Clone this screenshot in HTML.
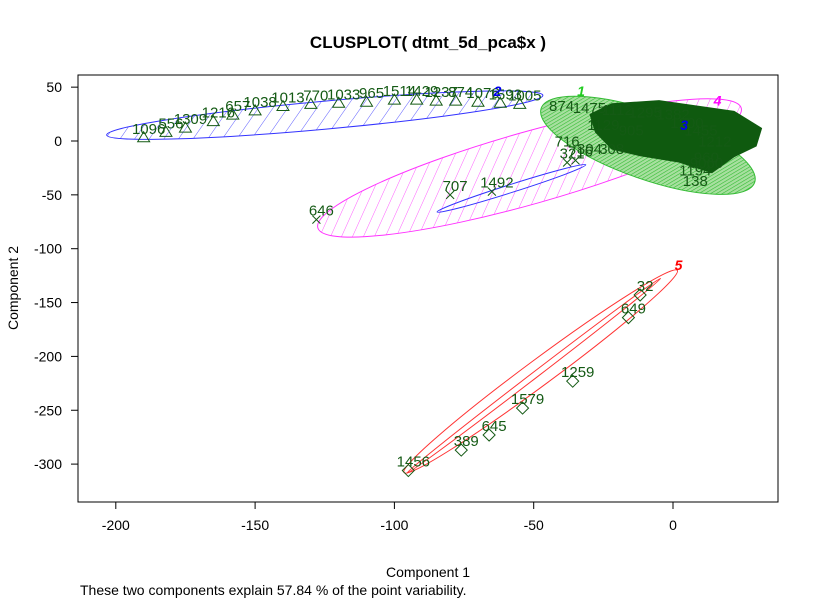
<!DOCTYPE html>
<html><head><meta charset="utf-8"><style>
body{margin:0;background:#fff}
svg{display:block;font-family:"Liberation Sans",sans-serif}
</style></head><body>
<svg id="chart" width="821" height="600" viewBox="0 0 821 600">
<defs>
<pattern id="hb" patternUnits="userSpaceOnUse" width="12" height="12" patternTransform="rotate(40)"><line x1="0" y1="0" x2="0" y2="12" stroke="#3333ff" stroke-width="0.8"/></pattern>
<pattern id="hm" patternUnits="userSpaceOnUse" width="10" height="10" patternTransform="rotate(40)"><line x1="0" y1="0" x2="0" y2="10" stroke="#ff33ff" stroke-width="0.8"/></pattern>
<pattern id="hg" patternUnits="userSpaceOnUse" width="3" height="3" patternTransform="rotate(40)"><rect width="3" height="3" fill="#a8e0a0"/><line x1="0" y1="0" x2="0" y2="3" stroke="#33bb33" stroke-width="1.2"/></pattern>
</defs>
<text x="428" y="48" text-anchor="middle" font-size="17" font-weight="bold">CLUSPLOT( dtmt_5d_pca$x )</text>
<rect x="78" y="75" width="700" height="427" fill="none" stroke="#000"/>
<g id="xaxis"></g>
<g id="yaxis"></g>
<g id="ellipses"></g>
<g id="points"></g>
<g id="blob"></g>
<g id="clabels"></g>
<text x="428" y="577" text-anchor="middle" font-size="14">Component 1</text>
<text transform="translate(18,288) rotate(-90)" text-anchor="middle" font-size="14">Component 2</text>
<text x="80" y="595" font-size="14">These two components explain 57.84 % of the point variability.</text>
</svg>
<script>
const xTicks=[-200,-150,-100,-50,0];
const yTicks=[50,0,-50,-100,-150,-200,-250,-300];
// cluster 5 (diamonds)
const c5x=[-11.8,-16,-36,-54,-66,-76,-95];
const c5y=[-143,-164,-223,-248,-273,-287,-306];
const c5l=["32","649","1259","1579","645","389","1456"];
// cluster 2 (triangles)
const c2x=[-190,-182,-175,-165,-158,-150,-140,-130,-120,-110,-100,-92,-85,-78,-70,-62,-55];
const c2y=[3,8,12,18,24,28,32,34,35,36,38,38,37,37,36,35,34];
const c2l=["1096","556","1309","1216","657","1038","1013","770","1033","965","1514","1429","1237","874","1076","1593","1005"];
// cluster 4 (x)
const c4x=[-128,-80,-65,-38,-35];
const c4y=[-73,-50,-47,-20,-18];
const c4l=["646","707","1492","321","716"];
// cluster 1/3 sample labels
const c1x=[-40,-30,-20,-10,0,5,10,15,-25,-15,12,8,-38,-30,8,12,-22];
const c1y=[28,26,24,22,20,12,5,-5,10,5,-20,-32,-5,-12,-42,-25,-12];
const c1l=["874","1475","1112","1295","1382","1200","1455","1212","1129","905","960","1194","716","304","138","9060","308"];
const ell=[
 {cx:-47.5,cy:-214,a:170,b:13,ang:-36.5,stroke:"#ff3333",fill:"none"},
 {cx:-50,cy:-218,a:160,b:3,ang:-37.5,stroke:"#ff3333",fill:"none"},
 {cx:-125,cy:24,a:219,b:14,ang:-5.2,stroke:"#3333ff",fill:"url(#hb)"},
 {cx:-51.5,cy:-25,a:220,b:36,ang:-15.8,stroke:"#ff33ff",fill:"url(#hm)"},
 {cx:-58,cy:-44,a:78,b:4,ang:-17.6,stroke:"#3333ff",fill:"none"},
 {cx:-9,cy:-4,a:113,b:34,ang:19.2,stroke:"#33bb33",fill:"url(#hg)"}
];
const X=v=>673+v*2.786, Y=v=>141-v*1.077;
const NS="http://www.w3.org/2000/svg";
function mk(t,at,p){const e=document.createElementNS(NS,t);for(const k in at)e.setAttribute(k,at[k]);p.appendChild(e);return e;}
const xa=document.getElementById('xaxis'),ya=document.getElementById('yaxis');
mk('line',{x1:X(-200),x2:X(0),y1:502,y2:502,stroke:'#000'},xa);
xTicks.forEach(t=>{const l=mk('line',{x1:X(t),x2:X(t),y1:502,y2:509,stroke:'#000'},xa);


const tx=mk('text',{x:X(t),y:530,'text-anchor':'middle','font-size':14},xa);tx.textContent=t;

});
mk('line',{x1:78,x2:78,y1:Y(50),y2:Y(-300),stroke:'#000'},ya);
yTicks.forEach(t=>{const l=mk('line',{x1:71,x2:78,y1:Y(t),y2:Y(t),stroke:'#000'},ya);


const tx=mk('text',{x:62,y:Y(t)+5,'text-anchor':'end','font-size':14},ya);tx.textContent=t;

});
const eg=document.getElementById('ellipses');
ell.forEach(e=>{const el=mk('ellipse',{cx:X(e.cx),cy:Y(e.cy),rx:e.a,ry:e.b,transform:`rotate(${e.ang} ${X(e.cx)} ${Y(e.cy)})`,fill:e.fill,stroke:e.stroke,'stroke-width':1},eg);

});
const pg=document.getElementById('points'),G="#145a14";
function pts(xs,ys,ls,shape){xs.forEach((v,i)=>{const px=X(v),py=Y(ys[i]);let s;
if(shape==='d')s=mk('polygon',{points:`${px},${py-6} ${px+6},${py} ${px},${py+6} ${px-6},${py}`,fill:'none',stroke:G},pg);
else if(shape==='t')s=mk('polygon',{points:`${px},${py-6} ${px+6},${py+4} ${px-6},${py+4}`,fill:'none',stroke:G},pg);
else s=mk('path',{d:`M${px-4} ${py-4}L${px+4} ${py+4}M${px-4} ${py+4}L${px+4} ${py-4}`,stroke:G},pg);


const t=mk('text',{x:px+5,y:py-4,'text-anchor':'middle','font-size':15,fill:G},pg);t.textContent=ls[i];

});}
pts(c5x,c5y,c5l,'d');pts(c2x,c2y,c2l,'t');pts(c4x,c4y,c4l,'x');
const bg=document.getElementById('blob');
const b=mk('path',{d:`M${X(-22)} ${Y(35)} L${X(-5)} ${Y(38)} L${X(22)} ${Y(28)} L${X(32)} ${Y(12)} L${X(30)} ${Y(-5)} L${X(22)} ${Y(-15)} L${X(14)} ${Y(-30)} L${X(2)} ${Y(-20)} L${X(-12)} ${Y(-14)} L${X(-22)} ${Y(-8)} L${X(-28)} ${Y(8)} L${X(-30)} ${Y(25)} Z`,fill:'#0f5a0f'},bg);


c1x.forEach((v,i)=>{const t=mk('text',{x:X(v),y:Y(c1y[i]),'text-anchor':'middle','font-size':15,fill:G},bg);t.textContent=c1l[i];

});
const cl=[["1",-33,42,"#22cc22"],["2",-63,42,"#0000ee"],["3",4,10,"#0000ee"],["4",16,33,"#ff00ff"],["5",2,-120,"#ff0000"]];
const cg=document.getElementById('clabels');
cl.forEach(c=>{const t=mk('text',{x:X(c[1]),y:Y(c[2]),'text-anchor':'middle','font-size':14,'font-weight':'bold','font-style':'italic',fill:c[3]},cg);t.textContent=c[0];

});
</script>
</body></html>
